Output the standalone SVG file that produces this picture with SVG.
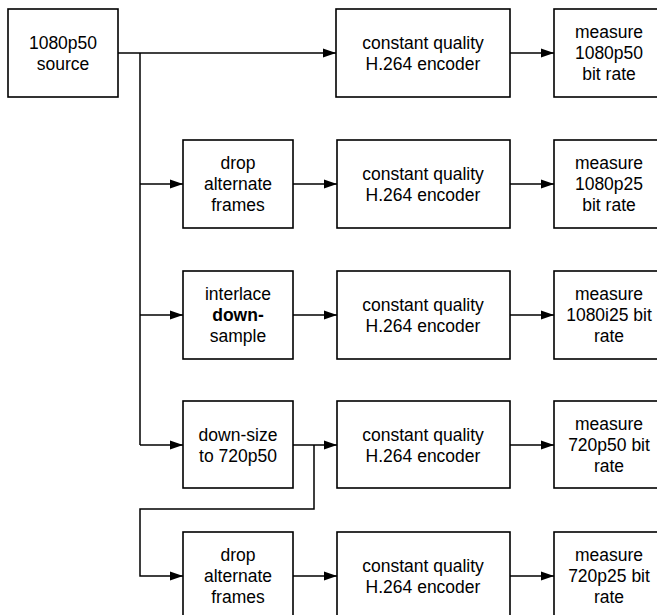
<svg xmlns="http://www.w3.org/2000/svg" width="657" height="615" viewBox="0 0 657 615">
<defs>
<style>
.box{fill:#fff;stroke:#000;stroke-width:1.6}
.ln{fill:none;stroke:#000;stroke-width:1.5}
text{font-family:"Liberation Sans",Arial,sans-serif;font-size:17.5px;fill:#000;text-anchor:middle}
.b{font-weight:bold}
</style>
<marker id="ah" markerUnits="userSpaceOnUse" markerWidth="14" markerHeight="11" refX="13" refY="5" orient="auto">
<path d="M0,0.5 L13,5 L0,9.5 z" fill="#000"/>
</marker>
</defs>
<rect width="657" height="615" fill="#fff"/>
<g id="connectors">
<path class="ln" d="M118,53 H336" marker-end="url(#ah)"/>
<path class="ln" d="M140,53 V445"/>
<path class="ln" d="M140,184 H183" marker-end="url(#ah)"/>
<path class="ln" d="M140,315 H183" marker-end="url(#ah)"/>
<path class="ln" d="M140,445 H183" marker-end="url(#ah)"/>
<path class="ln" d="M293,184 H337" marker-end="url(#ah)"/>
<path class="ln" d="M293,315 H337" marker-end="url(#ah)"/>
<path class="ln" d="M293,445 H337" marker-end="url(#ah)"/>
<path class="ln" d="M293,576 H337" marker-end="url(#ah)"/>
<path class="ln" d="M510,53 H554" marker-end="url(#ah)"/>
<path class="ln" d="M510,184 H554" marker-end="url(#ah)"/>
<path class="ln" d="M510,315 H554" marker-end="url(#ah)"/>
<path class="ln" d="M510,445 H554" marker-end="url(#ah)"/>
<path class="ln" d="M510,576 H554" marker-end="url(#ah)"/>
<path class="ln" d="M314,445 V509 H140 V576 H183" marker-end="url(#ah)"/>
</g>
<g id="source"><rect class="box" x="8" y="9" width="110" height="88"/><text x="63" y="48.5">1080p50</text><text x="63" y="69.5">source</text></g>
<g id="enc1"><rect class="box" x="336" y="9" width="174" height="88"/><text x="423" y="48.5">constant quality</text><text x="423" y="69.5">H.264 encoder</text></g>
<g id="meas1"><rect class="box" x="554" y="9" width="110" height="88"/><text x="609" y="38">measure</text><text x="609" y="59">1080p50</text><text x="609" y="80">bit rate</text></g>

<g id="drop1"><rect class="box" x="183" y="140" width="110" height="88"/><text x="238" y="169">drop</text><text x="238" y="190">alternate</text><text x="238" y="211">frames</text></g>
<g id="enc2"><rect class="box" x="337" y="140" width="173" height="88"/><text x="423" y="179.5">constant quality</text><text x="423" y="200.5">H.264 encoder</text></g>
<g id="meas2"><rect class="box" x="554" y="140" width="110" height="88"/><text x="609" y="169">measure</text><text x="609" y="190">1080p25</text><text x="609" y="211">bit rate</text></g>

<g id="interlace"><rect class="box" x="183" y="271" width="110" height="88"/><text x="238" y="300">interlace</text><text x="238" y="321" class="b">down-</text><text x="238" y="342">sample</text></g>
<g id="enc3"><rect class="box" x="337" y="271" width="173" height="88"/><text x="423" y="310.5">constant quality</text><text x="423" y="331.5">H.264 encoder</text></g>
<g id="meas3"><rect class="box" x="554" y="271" width="110" height="88"/><text x="609" y="300">measure</text><text x="609" y="321">1080i25 bit</text><text x="609" y="342">rate</text></g>

<g id="downsize"><rect class="box" x="183" y="401" width="110" height="87"/><text x="238" y="440.5">down-size</text><text x="238" y="461.5">to 720p50</text></g>
<g id="enc4"><rect class="box" x="337" y="401" width="173" height="87"/><text x="423" y="440.5">constant quality</text><text x="423" y="461.5">H.264 encoder</text></g>
<g id="meas4"><rect class="box" x="554" y="401" width="110" height="87"/><text x="609" y="430">measure</text><text x="609" y="451">720p50 bit</text><text x="609" y="472">rate</text></g>

<g id="drop2"><rect class="box" x="183" y="532" width="110" height="88"/><text x="238" y="561">drop</text><text x="238" y="582">alternate</text><text x="238" y="603">frames</text></g>
<g id="enc5"><rect class="box" x="337" y="532" width="173" height="88"/><text x="423" y="571.5">constant quality</text><text x="423" y="592.5">H.264 encoder</text></g>
<g id="meas5"><rect class="box" x="554" y="532" width="110" height="88"/><text x="609" y="561">measure</text><text x="609" y="582">720p25 bit</text><text x="609" y="603">rate</text></g>
</svg>
